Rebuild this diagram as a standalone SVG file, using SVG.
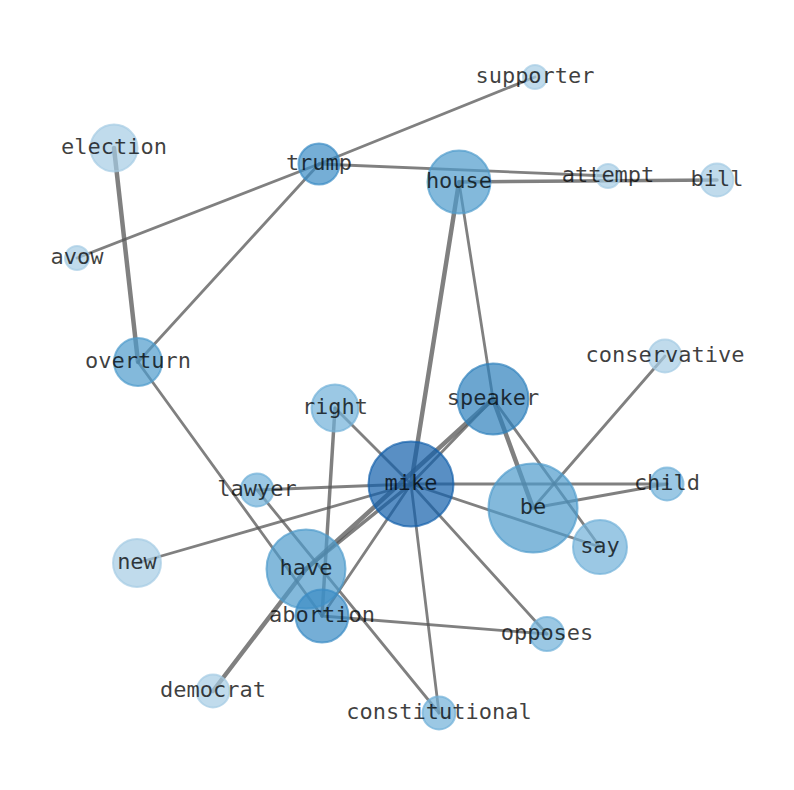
<svg xmlns="http://www.w3.org/2000/svg" width="794" height="790" viewBox="0 0 794 790">
<style>
.e{stroke:#555;stroke-opacity:0.75;stroke-width:2.8;stroke-linecap:round;fill:none}
.w3{stroke-width:3.5}
.w4{stroke-width:4.5}
.n circle{stroke-width:2;fill-opacity:0.7;stroke-opacity:0.7}
.c1{fill:#a5cce4;stroke:#a5cce4}
.c2{fill:#70b0d8;stroke:#70b0d8}
.c3{fill:#4f9bcc;stroke:#4f9bcc}
.c4{fill:#3a8bc4;stroke:#3a8bc4}
.c5{fill:#2d80bc;stroke:#2d80bc}
.c11{fill:#135fab;stroke:#135fab}
text{font-family:"DejaVu Sans Mono","Liberation Mono",monospace;font-size:22px;fill:#000;fill-opacity:0.75;text-anchor:middle;dominant-baseline:central}
</style>
<rect width="794" height="790" fill="#fff"/>
<g id="edges">
<line class="e" x1="319" y1="164" x2="535" y2="77"/>
<line class="e" x1="319" y1="164" x2="608" y2="176"/>
<line class="e" x1="319" y1="164" x2="77" y2="258"/>
<line class="e" x1="319" y1="164" x2="138" y2="362"/>
<line class="e w3" x1="459" y1="182" x2="717" y2="180"/>
<line class="e w4" x1="114" y1="148" x2="138" y2="362"/>
<line class="e" x1="138" y1="362" x2="322" y2="616"/>
<line class="e w4" x1="459" y1="182" x2="411" y2="484"/>
<line class="e" x1="459" y1="182" x2="493" y2="399"/>
<line class="e w4" x1="493" y1="399" x2="533" y2="508"/>
<line class="e" x1="493" y1="399" x2="600" y2="547"/>
<line class="e w4" x1="306" y1="569" x2="493" y2="399"/>
<line class="e" x1="411" y1="484" x2="493" y2="399"/>
<line class="e" x1="411" y1="484" x2="335" y2="408"/>
<line class="e" x1="411" y1="484" x2="257" y2="490"/>
<line class="e" x1="411" y1="484" x2="137" y2="563"/>
<line class="e w3" x1="411" y1="484" x2="306" y2="569"/>
<line class="e" x1="411" y1="484" x2="322" y2="616"/>
<line class="e" x1="411" y1="484" x2="667" y2="484"/>
<line class="e" x1="411" y1="484" x2="600" y2="547"/>
<line class="e" x1="411" y1="484" x2="547" y2="634"/>
<line class="e" x1="411" y1="484" x2="439" y2="713"/>
<line class="e" x1="533" y1="508" x2="665" y2="356"/>
<line class="e" x1="533" y1="508" x2="667" y2="484"/>
<line class="e w3" x1="335" y1="408" x2="322" y2="616"/>
<line class="e" x1="257" y1="490" x2="439" y2="713"/>
<line class="e w4" x1="213" y1="691" x2="306" y2="569"/>
<line class="e" x1="322" y1="616" x2="547" y2="634"/>
</g>
<g id="node-supporter" class="n"><circle class="c1" cx="535" cy="77" r="12"/><text x="535" y="75.5">supporter</text></g>
<g id="node-election" class="n"><circle class="c1" cx="114" cy="148" r="23.5"/><text x="114" y="146.5">election</text></g>
<g id="node-trump" class="n"><circle class="c4" cx="319" cy="164" r="20.5"/><text x="319" y="162.5">trump</text></g>
<g id="node-house" class="n"><circle class="c3" cx="459" cy="182" r="31.5"/><text x="459" y="180.5">house</text></g>
<g id="node-attempt" class="n"><circle class="c1" cx="608" cy="176" r="12"/><text x="608" y="174.5">attempt</text></g>
<g id="node-bill" class="n"><circle class="c1" cx="717" cy="180" r="16.5"/><text x="717" y="178.5">bill</text></g>
<g id="node-avow" class="n"><circle class="c1" cx="77" cy="258" r="12"/><text x="77" y="256.5">avow</text></g>
<g id="node-overturn" class="n"><circle class="c3" cx="138" cy="362" r="24"/><text x="138" y="360.5">overturn</text></g>
<g id="node-conservative" class="n"><circle class="c1" cx="665" cy="356" r="16.5"/><text x="665" y="354.5">conservative</text></g>
<g id="node-right" class="n"><circle class="c2" cx="335" cy="408" r="23.5"/><text x="335" y="406.5">right</text></g>
<g id="node-speaker" class="n"><circle class="c5" cx="493" cy="399" r="35.5"/><text x="493" y="397.5">speaker</text></g>
<g id="node-lawyer" class="n"><circle class="c2" cx="257" cy="490" r="16.5"/><text x="257" y="488.5">lawyer</text></g>
<g id="node-child" class="n"><circle class="c2" cx="667" cy="484" r="16.5"/><text x="667" y="482.5">child</text></g>
<g id="node-new" class="n"><circle class="c1" cx="137" cy="563" r="24"/><text x="137" y="561.5">new</text></g>
<g id="node-be" class="n"><circle class="c3" cx="533" cy="508" r="44.5"/><text x="533" y="506.5">be</text></g>
<g id="node-say" class="n"><circle class="c2" cx="600" cy="547" r="27"/><text x="600" y="545.5">say</text></g>
<g id="node-mike" class="n"><circle class="c11" cx="411" cy="484" r="42.5"/><text x="411" y="482.5">mike</text></g>
<g id="node-have" class="n"><circle class="c3" cx="306" cy="569" r="39.5"/><text x="306" y="567.5">have</text></g>
<g id="node-abortion" class="n"><circle class="c4" cx="322" cy="616" r="26.5"/><text x="322" y="614.5">abortion</text></g>
<g id="node-opposes" class="n"><circle class="c2" cx="547" cy="634" r="17"/><text x="547" y="632.5">opposes</text></g>
<g id="node-democrat" class="n"><circle class="c1" cx="213" cy="691" r="16.5"/><text x="213" y="689.5">democrat</text></g>
<g id="node-constitutional" class="n"><circle class="c2" cx="439" cy="713" r="16.5"/><text x="439" y="711.5">constitutional</text></g>
</svg>
